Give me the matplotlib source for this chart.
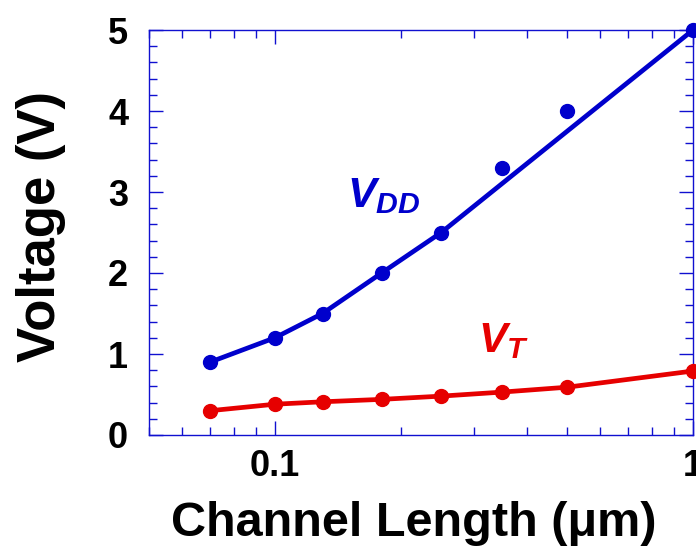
import matplotlib.pyplot as plt
from matplotlib.ticker import LogLocator, FixedLocator, MultipleLocator, FuncFormatter

# channel lengths (um) and measured voltages
length = [0.07, 0.1, 0.13, 0.18, 0.25, 0.35, 0.5, 1.0]
vdd = [0.9, 1.2, 1.5, 2.0, 2.5, 3.3, 4.0, 5.0]
vt = [0.30, 0.38, 0.41, 0.44, 0.48, 0.53, 0.59, 0.79]

# trend line for the supply voltage
vdd_trend_x = [0.07, 0.1, 0.13, 0.18, 0.25, 1.0]
vdd_trend_y = [0.9, 1.2, 1.5, 2.0, 2.5, 5.0]

blue = '#0000CC'
red = '#E60000'
axis_blue = '#1010D0'

plt.rcParams['font.family'] = ['Liberation Sans', 'DejaVu Sans']
plt.rcParams['font.weight'] = 'bold'
plt.rcParams['mathtext.fontset'] = 'custom'
plt.rcParams['mathtext.it'] = 'Liberation Sans:bold:italic'
plt.rcParams['mathtext.rm'] = 'Liberation Sans:bold'

fig = plt.figure(figsize=(6.96, 5.54), dpi=100)
ax = fig.add_axes([149 / 696, 119 / 554, 544 / 696, 405 / 554])

ax.plot(vdd_trend_x, vdd_trend_y, color=blue, lw=3.4, clip_on=False, zorder=3)
ax.plot(length, vdd, 'o', color=blue, ms=10, clip_on=False, zorder=4)
ax.plot(length, vt, '-o', color=red, lw=3.4, ms=10, clip_on=False, zorder=4)

ax.set_xscale('log')
ax.set_xlim(0.05, 1)
ax.set_ylim(0, 5)

ax.xaxis.set_major_locator(FixedLocator([0.1, 1]))
ax.xaxis.set_major_formatter(FuncFormatter(lambda v, p: '0.1' if v < 0.5 else '1'))
ax.xaxis.set_minor_locator(LogLocator(base=10, subs=range(2, 10)))
ax.xaxis.set_minor_formatter(FuncFormatter(lambda v, p: ''))
ax.yaxis.set_major_locator(MultipleLocator(1))
ax.yaxis.set_minor_locator(MultipleLocator(0.2))

for s in ax.spines.values():
    s.set_color(axis_blue)
    s.set_linewidth(1.0)

ax.tick_params(which='both', direction='in', top=True, right=True, color=axis_blue, width=1.0)
ax.tick_params(which='major', length=10)
ax.tick_params(which='minor', length=5.5)
ax.tick_params(axis='x', which='major', labelsize=26, pad=10)
ax.tick_params(axis='y', which='major', labelsize=26, pad=15)
for lab in ax.get_xticklabels() + ax.get_yticklabels():
    lab.set_fontweight('bold')

ax.set_xlabel('Channel Length (μm)', fontsize=35, fontweight='bold', labelpad=12, x=0.487)
ax.set_ylabel('Voltage (V)', fontsize=38, fontweight='bold', labelpad=30, y=0.516)

ax.text(0.1486, 2.81, r'$V_{DD}$', color=blue, fontsize=31)
ax.text(0.306, 1.02, r'$V_{T}$', color=red, fontsize=31)

fig.savefig('out.png', dpi=100)
